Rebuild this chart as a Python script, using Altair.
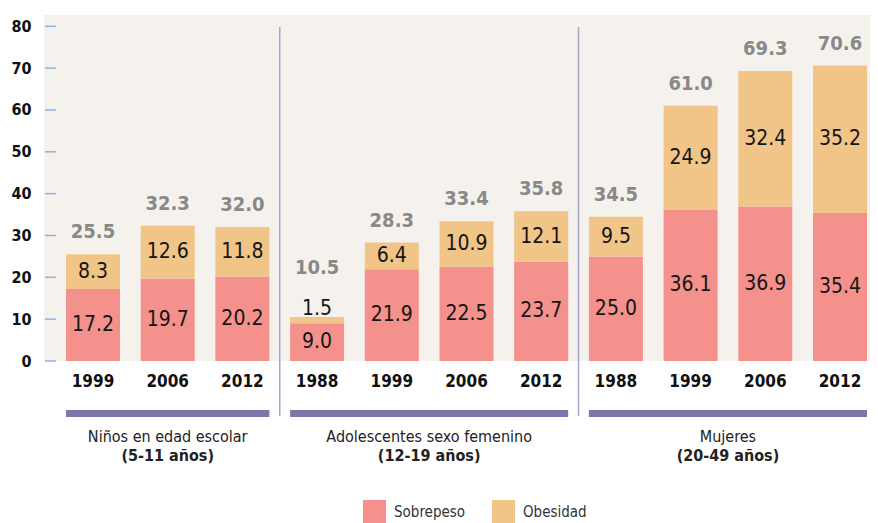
import altair as alt
import pandas as pd

# ---------------- data ----------------
grupos = ["Niños en edad escolar", "Adolescentes sexo femenino", "Mujeres"]
subtitulos = ["(5-11 años)", "(12-19 años)", "(20-49 años)"]
anios = [["1999", "2006", "2012"],
         ["1988", "1999", "2006", "2012"],
         ["1988", "1999", "2006", "2012"]]
sobrepeso = [17.2, 19.7, 20.2, 9.0, 21.9, 22.5, 23.7, 25.0, 36.1, 36.9, 35.4]
obesidad = [8.3, 12.6, 11.8, 1.5, 6.4, 10.9, 12.1, 9.5, 24.9, 32.4, 35.2]
totales = [25.5, 32.3, 32.0, 10.5, 28.3, 33.4, 35.8, 34.5, 61.0, 69.3, 70.6]
y_ticks = [0, 10, 20, 30, 40, 50, 60, 70, 80]
series = ["Sobrepeso", "Obesidad"]
colores = ["#F4918D", "#F1C487"]

FONT = "'Liberation Sans Narrow', 'DejaVu Sans Condensed', 'Roboto', sans-serif"

# ---------------- tables ----------------
keys, grp_of = [], []
for gi, ys in enumerate(anios):
    for a in ys:
        keys.append(f"{gi + 1}-{a}")
        grp_of.append(gi)

bars_rows = []
for k, s, o in zip(keys, sobrepeso, obesidad):
    bars_rows.append({"key": k, "tipo": series[0], "valor": s, "ord": 0})
    bars_rows.append({"key": k, "tipo": series[1], "valor": o, "ord": 1})
bars_df = pd.DataFrame(bars_rows)

lab_df = pd.DataFrame({"key": keys, "sob": sobrepeso, "obe": obesidad, "tot": totales})

grp_rows = []
idx = 0
for gi, ys in enumerate(anios):
    first = keys[idx]
    last = keys[idx + len(ys) - 1]
    mid = keys[idx + len(ys) // 2]
    grp_rows.append({"g": gi, "first": first, "last": last, "mid": mid,
                     "odd": len(ys) % 2 == 1, "nombre": grupos[gi], "sub": subtitulos[gi]})
    idx += len(ys)
grp_df = pd.DataFrame(grp_rows)
sep_df = grp_df[grp_df["g"] > 0][["first"]]

xs = alt.Scale(domain=keys, range=[22, 823], paddingInner=0.277, paddingOuter=0)
ys_scale = alt.Scale(domain=[0, 82.7], nice=False, zero=True)

# ---------------- layers ----------------
bars = alt.Chart(bars_df).mark_bar().encode(
    x=alt.X("key:N", scale=xs, sort=keys,
            axis=alt.Axis(title=None, labelExpr="slice(datum.value, -4)", ticks=False,
                          domain=False, labelAngle=0, labelFont=FONT, labelFontSize=17,
                          labelFontWeight="bold", labelColor="#111111", labelPadding=12)),
    y=alt.Y("valor:Q", stack="zero", scale=ys_scale,
            axis=alt.Axis(title=None, values=y_ticks, ticks=False, domain=False, grid=False,
                          labelFont=FONT, labelFontSize=16, labelFontWeight="bold",
                          labelColor="#111111", labelPadding=13)),
    color=alt.Color("tipo:N", scale=alt.Scale(domain=series, range=colores),
                    legend=alt.Legend(title=None, orient="none", legendX=319, legendY=485,
                                      direction="horizontal", symbolType="square",
                                      symbolSize=529, symbolStrokeWidth=0, symbolOpacity=1,
                                      labelFont=FONT, labelFontSize=15, labelColor="#333333",
                                      columnPadding=26, labelOffset=8, padding=0)),
    order=alt.Order("ord:Q"),
)

ticks = alt.Chart(pd.DataFrame({"t": y_ticks})).mark_rule(
    color="#8DB3E2", strokeWidth=1.5).encode(
    y=alt.Y("t:Q", scale=ys_scale), x=alt.value(1), x2=alt.value(12))

seps = alt.Chart(sep_df).mark_rule(color="#A7A4CB", strokeWidth=1.5, xOffset=-10.35).encode(
    x=alt.X("first:N", scale=xs, bandPosition=0), y=alt.value(12), y2=alt.value(401))

purple = alt.Chart(grp_df).mark_rect(color="#7B78A9").encode(
    x=alt.X("first:N", scale=xs, bandPosition=0),
    x2=alt.X2("last:N", bandPosition=1),
    y=alt.value(395), y2=alt.value(402))

calc = dict(
    sob_y="datum.sob / 2",
    obe_y="datum.obe < 3 ? datum.tot + 1.9 : datum.sob + datum.obe / 2",
    tot_y="datum.obe < 3 ? datum.tot + 6.5 : datum.tot",
)
base_lab = alt.Chart(lab_df).transform_calculate(**calc)
t_sob = base_lab.mark_text(font=FONT, fontSize=21, color="#151515", baseline="middle").encode(
    x=alt.X("key:N", scale=xs), y=alt.Y("sob_y:Q", scale=ys_scale),
    text=alt.Text("sob:Q", format=".1f"))
t_obe = base_lab.mark_text(font=FONT, fontSize=21, color="#151515", baseline="middle").encode(
    x=alt.X("key:N", scale=xs), y=alt.Y("obe_y:Q", scale=ys_scale),
    text=alt.Text("obe:Q", format=".1f"))
t_tot = base_lab.mark_text(font=FONT, fontSize=20, fontWeight="bold", color="#898989",
                           baseline="middle", dy=-22).encode(
    x=alt.X("key:N", scale=xs), y=alt.Y("tot_y:Q", scale=ys_scale),
    text=alt.Text("tot:Q", format=".1f"))


def group_text(odd, field, weight, ypix):
    if odd:
        mk = dict(dx=0)
        bp = 0.5
    else:
        mk = dict(dx=-10.35)
        bp = 0
    return alt.Chart(grp_df).transform_filter(
        f"datum.odd == {'true' if odd else 'false'}").mark_text(
        font=FONT, fontSize=16, fontWeight=weight, color="#222222", baseline="middle", **mk
    ).encode(x=alt.X("mid:N", scale=xs, bandPosition=bp), y=alt.value(ypix), text=f"{field}:N")


g_layers = [group_text(True, "nombre", "normal", 422), group_text(True, "sub", "bold", 441),
            group_text(False, "nombre", "normal", 422), group_text(False, "sub", "bold", 441)]

chart = alt.layer(bars, ticks, seps, purple, t_sob, t_obe, t_tot, *g_layers).properties(
    width=826, height=346,
    autosize=alt.AutoSizeParams(type="none"),
    padding={"left": 36, "top": 7, "right": 0, "bottom": 162},
).configure_view(stroke=None, fill="#F5F2EE")

chart.save("out.html", embed_options={"renderer": "svg", "actions": False})
